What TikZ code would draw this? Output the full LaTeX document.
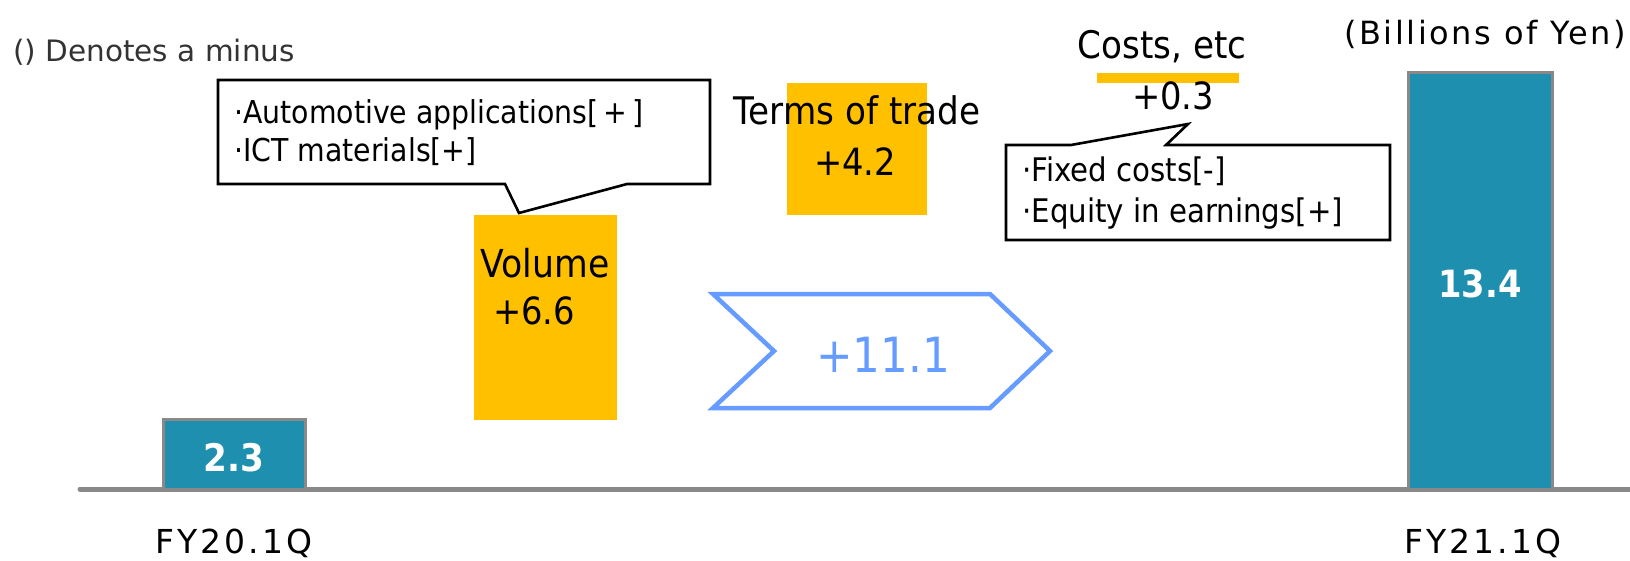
\documentclass[tikz,border=0pt]{standalone}
\usepackage{fontspec}
\setmainfont{DejaVu Sans}[FakeStretch=0.9]
\newfontfamily\plainfont{DejaVu Sans}
\newfontfamily\spaced[LetterSpace=9]{DejaVu Sans}
\newfontfamily\spacedb[LetterSpace=8]{DejaVu Sans}
\definecolor{teal1}{RGB}{31,143,176}
\definecolor{gray1}{RGB}{137,137,137}
\definecolor{amber}{RGB}{255,192,0}
\definecolor{blue1}{RGB}{102,155,255}
\tikzset{
  fs/.style={font=\fontsize{#1}{#1}\selectfont},
  bar/.style={fill=teal1,draw=gray1,line width=3pt},
  delta/.style={fill=amber,draw=none},
  callout/.style={fill=white,draw=black,line width=2.6pt,line join=miter},
  lbl/.style={inner sep=0pt,text=black},
}
\begin{document}
\begin{tikzpicture}[x=1pt,y=-1pt]
\useasboundingbox (0,0) rectangle (1630,560);
% baseline
\draw[gray1,line width=5pt,line cap=round] (80,489) -- (1630,489);
% bars
\draw[bar] (163,489) rectangle (305,419);
\draw[bar] (1408,489) rectangle (1552,72);
\node[lbl,text=white,font=\bfseries\fontsize{38}{44}\selectfont] (v1) at (234,458) {2.3};
\node[lbl,text=white,font=\bfseries\fontsize{37.5}{44}\selectfont] (v2) at (1480,284) {13.4};
\node[lbl,anchor=base,font=\spaced\fontsize{33}{38}\selectfont] (x1) at (234,553) {FY20.1Q};
\node[lbl,anchor=base,font=\spaced\fontsize{33}{38}\selectfont] (x2) at (1483,553) {FY21.1Q};
% notes
\node[lbl,anchor=west,text=black!80,font=\plainfont\fontsize{29.5}{34}\selectfont] (note) at (13,52) {() Denotes a minus};
\node[lbl,anchor=base,font=\spacedb\fontsize{32}{36}\selectfont] (unit) at (1485,44) {(Billions of Yen)};
% delta boxes
\fill[delta] (474,215) rectangle (617,420);
\node[lbl,fs=38.5] (volt) at (545,263) {Volume};
\node[lbl,fs=37.5] (voln) at (534,311) {+6.6};
\fill[delta] (787,83) rectangle (927,215);
\node[lbl,fs=38] (tott) at (857,110) {Terms of trade};
\node[lbl,fs=37.5] (totn) at (855,162) {+4.2};
\fill[delta] (1097,73) rectangle (1239,83);
\node[lbl,fs=38] (cost) at (1162,47) {Costs, etc};
\node[lbl,fs=37.5] (costn) at (1173,96) {+0.3};
% callout 1
\draw[callout] (218,80) -- (710,80) -- (710,184) -- (627,184) -- (519,213) -- (505,184) -- (218,184) -- cycle;
\node[lbl,anchor=west,align=left,font=\fontsize{31.5}{38}\selectfont] (c1) at (234,133)
  {\textperiodcentered Automotive applications[\,+\,]\\\textperiodcentered ICT materials[+]};
% callout 2
\draw[callout] (1006,145) -- (1071,145) -- (1188,124) -- (1166,145) -- (1390,145) -- (1390,240) -- (1006,240) -- cycle;
\node[lbl,anchor=west,align=left,font=\fontsize{32.5}{41}\selectfont] (c2) at (1022,193)
  {\textperiodcentered Fixed costs[-]\\\textperiodcentered Equity in earnings[+]};
% chevron
\draw[blue1,line width=4.5pt,line join=miter] (713,294) -- (990,294) -- (1050,351) -- (990,408) -- (713,408) -- (774,351) -- cycle;
\node[lbl,text=blue1,fs=48.5] (total) at (883,355) {+11.1};
\end{tikzpicture}
\end{document}
